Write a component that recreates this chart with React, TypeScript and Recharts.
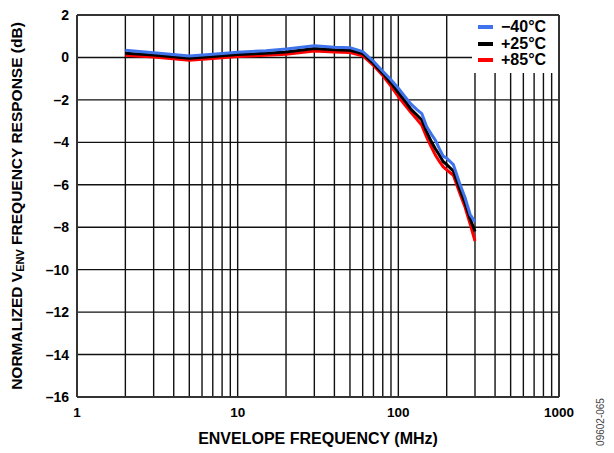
import React from "react";
import { LineChart, Line, XAxis, YAxis, CartesianGrid, ReferenceLine, Legend } from "recharts";

const freqs = [2, 3, 5, 7, 10, 15, 20, 30, 40, 50, 60, 70, 80, 90, 100, 110, 120, 130, 140, 150, 160, 170, 180, 190, 200, 220, 240, 260, 280, 300];
const minus40 = [0.34, 0.22, 0.07, 0.15, 0.24, 0.32, 0.4, 0.55, 0.48, 0.46, 0.28, -0.18, -0.65, -1.05, -1.45, -1.85, -2.2, -2.45, -2.65, -3.25, -3.6, -3.9, -4.3, -4.65, -4.75, -5.05, -5.9, -6.6, -7.4, -7.75];
const plus25 = [0.2, 0.12, -0.04, 0.05, 0.14, 0.2, 0.26, 0.42, 0.36, 0.34, 0.18, -0.28, -0.75, -1.2, -1.65, -2.05, -2.45, -2.7, -2.95, -3.5, -3.95, -4.3, -4.6, -4.9, -5.05, -5.35, -6.15, -6.85, -7.6, -8.2];
const plus85 = [0.1, 0.02, -0.13, -0.05, 0.05, 0.1, 0.15, 0.3, 0.26, 0.23, 0.08, -0.37, -0.85, -1.35, -1.85, -2.25, -2.6, -2.9, -3.2, -3.75, -4.2, -4.6, -4.9, -5.15, -5.3, -5.55, -6.35, -7.05, -7.85, -8.65];

const xTicks = [1, 10, 100, 1000];
const xGrid = [2, 3, 4, 5, 6, 7, 8, 9, 10, 20, 30, 40, 50, 60, 70, 80, 90, 100, 200, 300, 400, 500, 600, 700, 800, 900];
const yTicks = [-16, -14, -12, -10, -8, -6, -4, -2, 0, 2];

const series = [
  { key: "m40", name: "\u221240\u00b0C", color: "#3f73ec" },
  { key: "p25", name: "+25\u00b0C", color: "#000000" },
  { key: "p85", name: "+85\u00b0C", color: "#ff0000" },
];

const data = freqs.map((f, i) => ({ f, m40: minus40[i], p25: plus25[i], p85: plus85[i] }));

const FONT = "'Liberation Sans', Arial, sans-serif";
const fmtY = (v: number) => (v < 0 ? "\u2013" + Math.abs(v) : String(v));

function LegendBox() {
  return (
    <div style={{ background: "#fff", padding: "3px 0 4px 6px", fontFamily: FONT, fontWeight: 700, fontSize: 16, lineHeight: "16.5px", color: "#000" }}>
      {series.map((s) => (
        <div key={s.key} style={{ display: "flex", alignItems: "center" }}>
          <span style={{ display: "inline-block", width: 15, height: 4, background: s.color, marginRight: 8 }} />
          <span>{s.name}</span>
        </div>
      ))}
    </div>
  );
}

export default function App() {
  return (
    <div style={{ position: "fixed", left: 0, top: 0, width: 614, height: 453, background: "#fff" }}>
      <LineChart width={614} height={453} data={data} margin={{ top: 15, right: 55, left: 0, bottom: 0 }}>
        <CartesianGrid vertical={false} stroke="#111" strokeWidth={1.4} />
        {xGrid.map((x) => (
          <ReferenceLine key={x} x={x} stroke="#111" strokeWidth={1.4} />
        ))}
        <ReferenceLine x={1000} stroke="#333" strokeWidth={2} />
        <ReferenceLine y={2} stroke="#333" strokeWidth={2} />
        <XAxis
          dataKey="f"
          type="number"
          scale="log"
          domain={[1, 1000]}
          ticks={xTicks}
          allowDataOverflow
          height={56}
          axisLine={{ stroke: "#333", strokeWidth: 2 }}
          tickLine={false}
          tick={{ fill: "#000", fontFamily: FONT, fontWeight: 700, fontSize: 13.5 }}
          tickMargin={4}
          label={{ value: "ENVELOPE FREQUENCY (MHz)", position: "insideBottom", offset: 9, fill: "#000", fontFamily: FONT, fontWeight: 700, fontSize: 16 }}
        />
        <YAxis
          type="number"
          domain={[-16, 2]}
          ticks={yTicks}
          width={77}
          interval={0}
          axisLine={{ stroke: "#333", strokeWidth: 2 }}
          tickLine={false}
          tickFormatter={fmtY}
          tick={{ fill: "#000", fontFamily: FONT, fontWeight: 700, fontSize: 14 }}
          tickMargin={2}
          label={() => (
            <text
              x={16}
              y={206}
              transform="rotate(-90 16 206)"
              textAnchor="middle"
              dominantBaseline="central"
              fontFamily={FONT}
              fontWeight={700}
              fontSize={15.5}
              fill="#000"
            >
              NORMALIZED V
              <tspan fontSize={11} dy={4}>ENV</tspan>
              <tspan dy={-4}> FREQUENCY RESPONSE (dB)</tspan>
            </text>
          )}
        />
        <Legend
          layout="horizontal"
          verticalAlign="middle"
          align="center"
          content={() => <LegendBox />}
          wrapperStyle={{ position: "absolute", top: 16, left: 472, width: 86, height: "auto" }}
        />
        {[...series].reverse().map((s) => (
          <Line
            key={s.key}
            dataKey={s.key}
            name={s.name}
            stroke={s.color}
            strokeWidth={3}
            dot={false}
            type="linear"
            isAnimationActive={false}
          />
        ))}
      </LineChart>
      <div
        style={{
          position: "absolute",
          left: 600,
          top: 422,
          transform: "translate(-50%, -50%) rotate(-90deg)",
          fontFamily: FONT,
          fontSize: 10,
          color: "#444",
          whiteSpace: "nowrap",
        }}
      >
        09602-065
      </div>
    </div>
  );
}
